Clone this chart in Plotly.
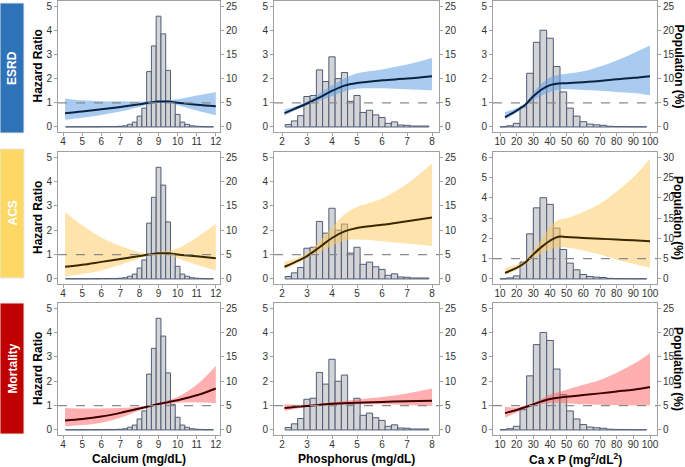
import plotly.graph_objects as go

W, H = 685, 467

# ---------------- histogram data (population %) ----------------
CA_CENTERS = [4.25, 4.5, 4.75, 5.0, 5.25, 5.5, 5.75, 6.0, 6.25, 6.5, 6.75, 7.0, 7.25, 7.5, 7.75,
              8.0, 8.25, 8.5, 8.75, 9.0, 9.25, 9.5, 9.75, 10.0, 10.25, 10.5, 10.75, 11.0, 11.25,
              11.5, 11.75]
CA_POP = [0.05, 0.05, 0.05, 0.05, 0.05, 0.05, 0.05, 0.08, 0.08, 0.1, 0.1, 0.15, 0.25, 0.55, 1.0,
          2.25, 3.9, 11.45, 16.75, 22.9, 19.25, 11.7, 5.25, 2.6, 1.0, 0.55, 0.25, 0.15, 0.1,
          0.05, 0.05]
CA_WIDTH = 0.25

P_CENTERS = [2.25, 2.5, 2.75, 3.0, 3.25, 3.5, 3.75, 4.0, 4.25, 4.5, 4.75, 5.0, 5.25, 5.5, 5.75,
             6.0, 6.25, 6.5, 6.75, 7.0, 7.25, 7.5, 7.75]
P_POP = [0.5, 1.25, 2.35, 6.3, 6.5, 11.8, 9.4, 14.5, 10.0, 11.25, 5.3, 6.5, 3.0, 3.45, 2.5,
         1.95, 0.75, 1.05, 0.4, 0.35, 0.2, 0.2, 0.2]
P_WIDTH = 0.25

CAP_CENTERS = [12, 16, 20, 24, 28, 32, 36, 40, 44, 48, 52, 56, 60, 64, 68, 72, 76, 80, 84, 88, 92, 96]
CAP_POP = [0.05, 0.25, 0.75, 4.15, 11.1, 17.5, 20.0, 18.35, 12.5, 7.25, 3.9, 2.25, 1.1, 0.6,
           0.45, 0.35, 0.15, 0.1, 0.08, 0.06, 0.05, 0.05]
CAP_WIDTH = 4

# ---------------- hazard ratio curves ----------------
CA_X = [4.1, 5, 6, 7, 8, 8.5, 9, 9.5, 10, 11, 12]
ESRD_CA_HR = [0.57, 0.64, 0.73, 0.83, 0.94, 1.0, 1.05, 1.05, 1.0, 0.92, 0.86]
ESRD_CA_LO = [0.30, 0.38, 0.50, 0.64, 0.83, 0.93, 1.0, 0.99, 0.90, 0.68, 0.48]
ESRD_CA_HI = [1.18, 1.10, 1.06, 1.06, 1.05, 1.07, 1.10, 1.12, 1.15, 1.30, 1.45]
ACS_CA_HR = [0.50, 0.58, 0.70, 0.82, 0.94, 1.0, 1.05, 1.05, 1.0, 0.93, 0.85]
ACS_CA_LO = [0.10, 0.20, 0.35, 0.58, 0.84, 0.95, 0.98, 0.96, 0.85, 0.58, 0.35]
ACS_CA_HI = [2.75, 2.20, 1.70, 1.35, 1.10, 1.04, 1.12, 1.16, 1.25, 1.70, 2.25]
MORT_CA_HR = [0.39, 0.45, 0.55, 0.70, 0.88, 0.97, 1.06, 1.14, 1.22, 1.42, 1.70]
MORT_CA_LO = [0.15, 0.20, 0.30, 0.50, 0.80, 0.93, 1.02, 1.07, 1.12, 1.14, 1.10]
MORT_CA_HI = [0.90, 0.88, 0.88, 0.90, 0.95, 1.00, 1.10, 1.22, 1.35, 1.85, 2.62]

P_X = [2.1, 2.5, 3, 3.5, 4, 4.5, 5, 6, 7, 8]
ESRD_P_HR = [0.57, 0.75, 0.97, 1.22, 1.49, 1.71, 1.82, 1.93, 2.00, 2.10]
ESRD_P_LO = [0.47, 0.67, 0.90, 1.08, 1.27, 1.47, 1.58, 1.60, 1.56, 1.52]
ESRD_P_HI = [0.72, 0.84, 1.05, 1.38, 1.72, 2.00, 2.22, 2.38, 2.58, 2.85]
ACS_P_HR = [0.50, 0.68, 0.94, 1.30, 1.68, 1.95, 2.09, 2.22, 2.37, 2.52]
ACS_P_LO = [0.38, 0.58, 0.86, 1.10, 1.35, 1.58, 1.62, 1.55, 1.45, 1.35]
ACS_P_HI = [0.72, 0.82, 1.05, 1.55, 2.10, 2.65, 2.95, 3.30, 3.90, 4.75]
MORT_P_HR = [0.90, 0.94, 0.98, 1.03, 1.07, 1.10, 1.12, 1.15, 1.18, 1.20]
MORT_P_LO = [0.78, 0.86, 0.94, 0.99, 1.02, 1.04, 1.05, 1.05, 1.02, 0.98]
MORT_P_HI = [1.05, 1.03, 1.03, 1.08, 1.14, 1.19, 1.25, 1.35, 1.50, 1.70]

CAP_X = [13, 20, 25, 30, 35, 40, 45, 50, 60, 70, 80, 90, 100]
ESRD_CAP_HR = [0.41, 0.68, 0.91, 1.27, 1.55, 1.73, 1.80, 1.81, 1.85, 1.90, 1.97, 2.03, 2.10]
ESRD_CAP_LO = [0.30, 0.60, 0.85, 1.10, 1.30, 1.45, 1.55, 1.56, 1.53, 1.50, 1.45, 1.40, 1.31]
ESRD_CAP_HI = [0.62, 0.78, 0.98, 1.42, 1.80, 2.05, 2.15, 2.20, 2.30, 2.50, 2.75, 3.05, 3.37]
ACS_CAP_HR = [0.30, 0.55, 0.80, 1.21, 1.58, 1.88, 2.08, 2.07, 2.02, 1.98, 1.94, 1.90, 1.86]
ACS_CAP_LO = [0.20, 0.45, 0.70, 1.00, 1.25, 1.45, 1.55, 1.55, 1.40, 1.20, 0.95, 0.75, 0.55]
ACS_CAP_HI = [0.55, 0.70, 0.90, 1.42, 1.95, 2.60, 2.90, 3.00, 3.30, 3.70, 4.30, 5.00, 5.90]
MORT_CAP_HR = [0.69, 0.82, 0.93, 1.05, 1.17, 1.27, 1.32, 1.36, 1.43, 1.50, 1.58, 1.65, 1.76]
MORT_CAP_LO = [0.50, 0.72, 0.86, 0.98, 1.06, 1.12, 1.12, 1.10, 1.05, 1.03, 1.01, 1.00, 1.00]
MORT_CAP_HI = [0.95, 0.92, 1.00, 1.10, 1.28, 1.45, 1.55, 1.65, 1.85, 2.05, 2.35, 2.70, 3.15]

REF_HR = 1.0
ROW_NAMES = ["ESRD", "ACS", "Mortality"]
X_TITLES = ["Calcium (mg/dL)", "Phosphorus (mg/dL)", "Ca x P (mg<sup>2</sup>/dL<sup>2</sup>)"]

# ---------------- styling ----------------
FONT = "Arial, Liberation Sans, Helvetica, sans-serif"
ROW_BOX = ["#2e72b8", "#fdd865", "#c00000"]
BAND = ["rgba(100,160,228,0.55)", "rgba(255,200,90,0.5)", "rgba(255,95,95,0.5)"]
LINE = ["#0b2342", "#3a2800", "#3e0000"]
AX = "#a0a0a0"
TXT = "#333333"

col_px = [(58, 220), (274, 439), (493, 657)]
row_px = [(1, 132), (152, 284), (303, 435)]
x_ranges = [[3.73, 12.22], [1.68, 8.28], [5.8, 104.2]]
x_ticks = [list(range(4, 13)), list(range(2, 9)), list(range(10, 101, 10))]

hist = [(CA_CENTERS, CA_POP, CA_WIDTH), (P_CENTERS, P_POP, P_WIDTH), (CAP_CENTERS, CAP_POP, CAP_WIDTH)]
curves = [
    [(CA_X, ESRD_CA_HR, ESRD_CA_LO, ESRD_CA_HI), (P_X, ESRD_P_HR, ESRD_P_LO, ESRD_P_HI), (CAP_X, ESRD_CAP_HR, ESRD_CAP_LO, ESRD_CAP_HI)],
    [(CA_X, ACS_CA_HR, ACS_CA_LO, ACS_CA_HI), (P_X, ACS_P_HR, ACS_P_LO, ACS_P_HI), (CAP_X, ACS_CAP_HR, ACS_CAP_LO, ACS_CAP_HI)],
    [(CA_X, MORT_CA_HR, MORT_CA_LO, MORT_CA_HI), (P_X, MORT_P_HR, MORT_P_LO, MORT_P_HI), (CAP_X, MORT_CAP_HR, MORT_CAP_LO, MORT_CAP_HI)],
]

fig = go.Figure()
layout = {}
shapes = []
annotations = []

def px_x(p):
    return p / W

def px_y(p):
    return 1 - p / H

tickfont = dict(size=10, color=TXT, family=FONT)
for r in range(3):
    for c in range(3):
        i = r * 3 + c
        xk = i + 1
        yb = 2 * i + 1   # base axis: population (%), right side
        yh = 2 * i + 2   # overlay axis: hazard ratio, left side
        xname = "x" if xk == 1 else f"x{xk}"
        ybname = "y" if yb == 1 else f"y{yb}"
        yhname = f"y{yh}"
        hr_max = 6 if (r == 1 and c == 2) else 5
        pad = hr_max * 0.0415
        hr_range = [-pad, hr_max + pad]
        pop_range = [v * 5 for v in hr_range]

        layout["xaxis" if xk == 1 else f"xaxis{xk}"] = dict(
            domain=[px_x(col_px[c][0]), px_x(col_px[c][1])], anchor=ybname,
            range=x_ranges[c], tickvals=x_ticks[c], ticks="outside", ticklen=3,
            tickcolor=AX, showline=True, linecolor=AX, linewidth=1, mirror=True,
            showgrid=False, zeroline=False, tickfont=tickfont, automargin=False,
            ticklabelstandoff=-3,
        )
        layout["yaxis" if yb == 1 else f"yaxis{yb}"] = dict(
            domain=[px_y(row_px[r][1]), px_y(row_px[r][0])], anchor=xname, side="right",
            range=pop_range, tickvals=list(range(0, hr_max * 5 + 1, 5)), ticks="outside",
            ticklen=3, tickcolor=AX, showline=True, linecolor=AX, linewidth=1,
            showgrid=False, zeroline=False, tickfont=tickfont, automargin=False,
        )
        layout[f"yaxis{yh}"] = dict(
            overlaying=ybname, anchor=xname, side="left", range=hr_range,
            tickvals=list(range(0, hr_max + 1)), ticks="outside", ticklen=3, tickcolor=AX,
            showline=True, linecolor=AX, linewidth=1, showgrid=False, zeroline=False,
            tickfont=tickfont, automargin=False,
        )

        hx, hy, hw = hist[c]
        fig.add_trace(go.Bar(x=hx, y=hy, width=hw, xaxis=xname, yaxis=ybname,
                             marker=dict(color="#d4d4d6", line=dict(color="#4f5d77", width=1)),
                             showlegend=False, hoverinfo="skip"))
        cx, chr_, clo, chi = curves[r][c]
        fig.add_trace(go.Scatter(x=cx, y=chi, xaxis=xname, yaxis=yhname, mode="lines",
                                 line=dict(width=0, shape="spline"), showlegend=False, hoverinfo="skip"))
        fig.add_trace(go.Scatter(x=cx, y=clo, xaxis=xname, yaxis=yhname, mode="lines",
                                 line=dict(width=0, shape="spline"), fill="tonexty",
                                 fillcolor=BAND[r], showlegend=False, hoverinfo="skip"))
        fig.add_trace(go.Scatter(x=cx, y=chr_, xaxis=xname, yaxis=yhname, mode="lines",
                                 line=dict(width=2, color=LINE[r], shape="spline"), showlegend=False))
        shapes.append(dict(type="line", xref=f"{xname} domain", x0=0, x1=1, yref=yhname,
                           y0=REF_HR, y1=REF_HR, line=dict(color="#8a8a8a", width=1.2, dash="dash"),
                           layer="above"))

# row label boxes and titles
box_px = [(3, 133), (149, 278), (303, 434)]
for r in range(3):
    y0, y1 = box_px[r]
    shapes.append(dict(type="rect", xref="paper", yref="paper", x0=0, x1=px_x(24),
                       y0=px_y(y1), y1=px_y(y0), fillcolor=ROW_BOX[r],
                       line=dict(color="#e8e8e8", width=1), layer="above"))
    annotations.append(dict(text=f"<b>{ROW_NAMES[r]}</b>", xref="paper", yref="paper",
                            x=px_x(12), y=px_y((y0 + y1) / 2), textangle=-90, showarrow=False,
                            xanchor="center", yanchor="middle",
                            font=dict(size=12, color="white", family=FONT)))
    ymid = px_y((row_px[r][0] + row_px[r][1]) / 2)
    annotations.append(dict(text="<b>Hazard Ratio</b>", xref="paper", yref="paper",
                            x=px_x(38), y=ymid, textangle=-90, showarrow=False,
                            xanchor="center", yanchor="middle",
                            font=dict(size=12, color="black", family=FONT)))
    annotations.append(dict(text="<b>Population (%)</b>", xref="paper", yref="paper",
                            x=px_x(678), y=ymid, textangle=90, showarrow=False,
                            xanchor="center", yanchor="middle",
                            font=dict(size=12, color="black", family=FONT)))

for c in range(3):
    annotations.append(dict(text=f"<b>{X_TITLES[c]}</b>", xref="paper", yref="paper",
                            x=px_x((col_px[c][0] + col_px[c][1]) / 2), y=px_y(459),
                            xanchor="center", yanchor="middle",
                            showarrow=False, font=dict(size=12, color="black", family=FONT)))

fig.update_layout(width=W, height=H, margin=dict(l=0, r=0, t=0, b=0),
                  paper_bgcolor="white", plot_bgcolor="white", barmode="overlay",
                  shapes=shapes, annotations=annotations, **layout)

fig.write_html("out.html", config={"displayModeBar": False},
               post_script="document.body.style.margin='0';document.body.style.overflow='hidden';")
